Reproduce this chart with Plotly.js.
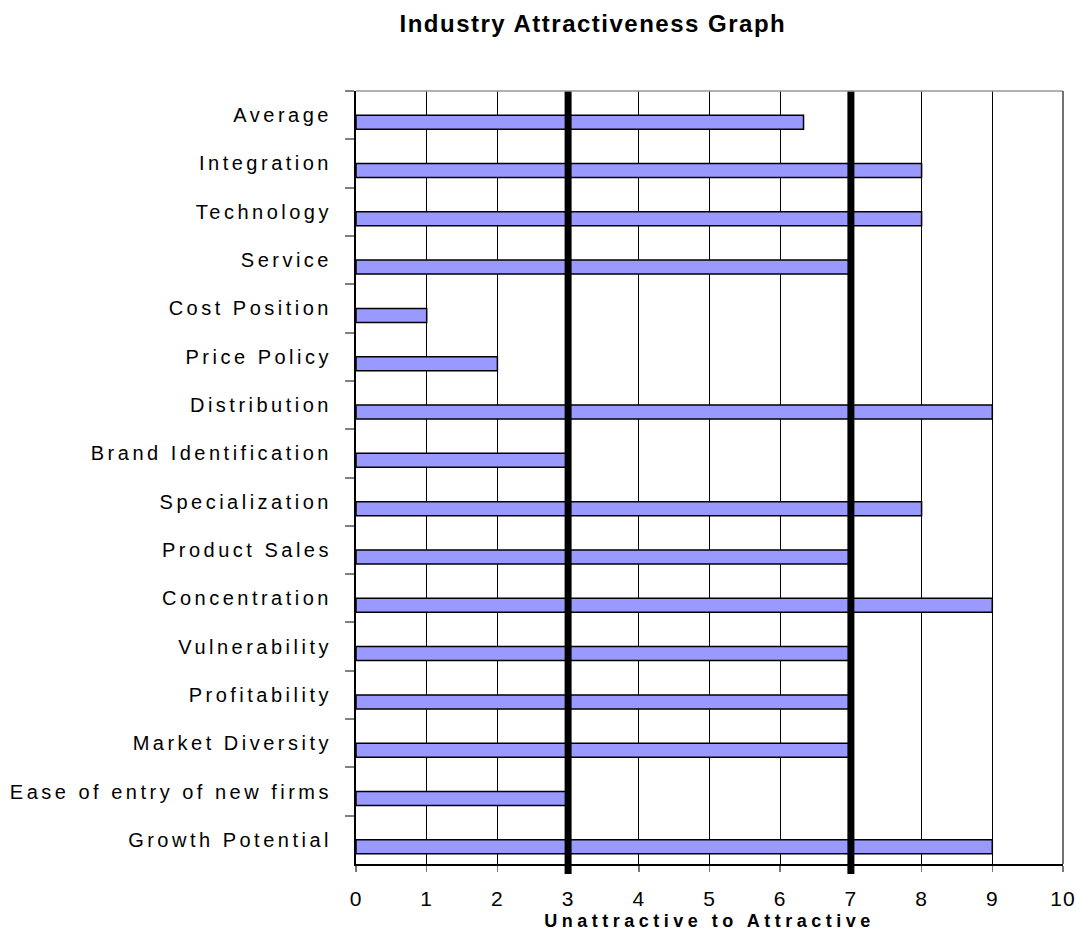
<!DOCTYPE html>
<html>
<head>
<meta charset="utf-8">
<script src="https://cdn.plot.ly/plotly-3.0.1.min.js"></script>
<style>
  html, body { margin: 0; padding: 0; background: #fff; }
  #chart { width: 1076px; height: 931px; }
  /* widen the spacing of labels and titles */
  #chart .ytick text { letter-spacing: 3.5px; }
  #chart .xtick text { letter-spacing: 1px; }
  #chart .g-xtitle text { letter-spacing: 4.5px; }
  #chart .gtitle { letter-spacing: 1.5px; }
</style>
</head>
<body>
<div id="chart"></div>
<script>
// Factors, listed top to bottom
const factors = [
  "Average",
  "Integration",
  "Technology",
  "Service",
  "Cost Position",
  "Price Policy",
  "Distribution",
  "Brand Identification",
  "Specialization",
  "Product Sales",
  "Concentration",
  "Vulnerability",
  "Profitability",
  "Market Diversity",
  "Ease of entry of new firms",
  "Growth Potential"
];

// Score of each factor (0 = unattractive, 10 = attractive)
const scores = [6.33, 8, 8, 7, 1, 2, 9, 3, 8, 7, 9, 7, 7, 7, 3, 9];

// Thresholds separating unattractive / neutral / attractive
const thresholds = [3, 7];

const xTicks = [0, 1, 2, 3, 4, 5, 6, 7, 8, 9, 10];

const FONT = "Liberation Sans, Arial, Helvetica, sans-serif";

const trace = {
  type: "bar",
  orientation: "h",
  x: scores,
  y: factors,
  width: 0.29,
  offset: 0.0,
  marker: { color: "#9999ff", line: { color: "#000000", width: 1.5 } },
  hoverinfo: "x+y"
};

const shapes = thresholds.map(v => ({
  type: "line", xref: "x", yref: "paper",
  x0: v, x1: v, y0: -0.013, y1: 1,
  line: { color: "#000000", width: 7 }
}));
// top and right frame of the plotting area
shapes.push({ type: "line", xref: "paper", yref: "paper", x0: 0, x1: 1, y0: 1, y1: 1,
  line: { color: "#999999", width: 1.5 } });
shapes.push({ type: "line", xref: "paper", yref: "paper", x0: 1, x1: 1, y0: 0, y1: 1,
  line: { color: "#444444", width: 1.5 } });

const layout = {
  width: 1076,
  height: 931,
  margin: { l: 356, r: 13, t: 91, b: 67 },
  paper_bgcolor: "#ffffff",
  plot_bgcolor: "#ffffff",
  showlegend: false,
  bargap: 0,
  font: { family: FONT, color: "#000000", size: 20 },
  title: {
    text: "<b>Industry Attractiveness Graph</b>",
    font: { family: FONT, size: 24, color: "#000000" },
    xref: "container", x: 0.551, xanchor: "center",
    yref: "container", y: 0.975, yanchor: "middle"
  },
  xaxis: {
    range: [0, 10],
    tickvals: xTicks,
    ticktext: xTicks.map(String),
    showgrid: true,
    gridcolor: "#000000",
    gridwidth: 1,
    zeroline: false,
    showline: true,
    linecolor: "#000000",
    linewidth: 1.5,
    ticks: "outside",
    ticklen: 6,
    tickwidth: 1.5,
    tickcolor: "#777777",
    ticklabelstandoff: 9,
    tickfont: { family: FONT, size: 21, color: "#000000" },
    title: {
      text: "<b>Unattractive to Attractive</b>",
      font: { family: FONT, size: 18, color: "#000000" },
      standoff: 6
    },
    fixedrange: true
  },
  yaxis: {
    type: "category",
    categoryorder: "array",
    categoryarray: factors,
    autorange: "reversed",
    showgrid: false,
    zeroline: false,
    showline: true,
    linecolor: "#000000",
    linewidth: 2,
    ticks: "outside",
    tickson: "boundaries",
    ticklen: 9,
    tickwidth: 2,
    tickcolor: "#808080",
    ticklabelstandoff: 18,
    tickfont: { family: FONT, size: 20, color: "#000000" },
    fixedrange: true
  },
  shapes: shapes
};

Plotly.newPlot("chart", [trace], layout, { displayModeBar: false, staticPlot: true });
</script>
</body>
</html>
